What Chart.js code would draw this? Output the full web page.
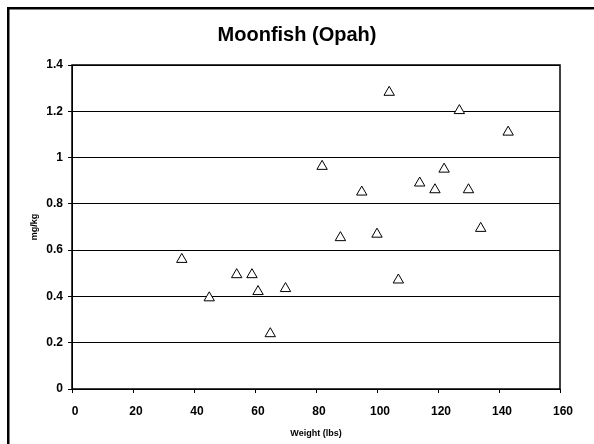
<!DOCTYPE html>
<html>
<head>
<meta charset="utf-8">
<script src="https://cdn.jsdelivr.net/npm/chart.js@4"></script>
<style>
  html, body { margin: 0; padding: 0; background: #fff; }
  #wrap { width: 594px; height: 444px; }
</style>
</head>
<body>
<div id="wrap"><canvas id="chart" width="594" height="444"></canvas></div>
<script>
// weight (lbs) and mercury (mg/kg) per fish
const weights = [36, 45, 54, 59, 61, 65, 70, 82, 88, 95, 100, 104, 107, 114, 119, 122, 127, 130, 134, 143];
const mercury = [0.56, 0.394, 0.494, 0.494, 0.421, 0.239, 0.434, 0.962, 0.654, 0.851, 0.669, 1.282, 0.471, 0.89, 0.861, 0.95, 1.203, 0.861, 0.694, 1.11];
const yTickLabels = ['0', '0.2', '0.4', '0.6', '0.8', '1', '1.2', '1.4'];
const xTickLabels = ['0', '20', '40', '60', '80', '100', '120', '140', '160'];

Chart.defaults.font.family = "'Liberation Sans', Arial, sans-serif";
Chart.defaults.color = '#000';

// outer chart-area frame (only left/top fall inside the picture) + plot border
const frames = {
  id: 'frames',
  beforeDraw(chart) {
    const ctx = chart.ctx;
    ctx.save();
    ctx.fillStyle = '#000';
    ctx.fillRect(7, 7, 594, 2.5);
    ctx.fillRect(7, 7, 2.5, 444);
    ctx.restore();
  },
  beforeDatasetsDraw(chart) {
    const { ctx, chartArea: a } = chart;
    ctx.save();
    ctx.strokeStyle = '#000';
    ctx.lineWidth = 1.5;
    ctx.strokeRect(a.left, a.top, a.right - a.left, a.bottom - a.top);
    ctx.restore();
  }
};

new Chart(document.getElementById('chart'), {
  type: 'scatter',
  data: {
    datasets: [{
      label: 'Moonfish (Opah)',
      data: weights.map((w, i) => ({ x: w, y: mercury[i] })),
      pointStyle: 'triangle',
      pointRadius: 6,
      pointHoverRadius: 6,
      pointBackgroundColor: '#fff',
      pointBorderColor: '#000',
      pointBorderWidth: 1
    }]
  },
  options: {
    responsive: false,
    animation: false,
    devicePixelRatio: 1,
    layout: { padding: 0 },
    plugins: {
      legend: { display: false },
      tooltip: { enabled: false },
      title: {
        display: true,
        text: 'Moonfish (Opah)',
        font: { size: 20, weight: 'bold' },
        padding: { top: 23, bottom: 18 }
      }
    },
    scales: {
      x: {
        type: 'linear',
        min: 0,
        max: 160,
        afterFit(scale) { scale.height = 55; },
        afterBuildTicks(scale) {
          scale.ticks = xTickLabels.map(v => ({ value: Number(v) }));
        },
        ticks: {
          callback: (v, i) => xTickLabels[i],
          font: { size: 12, weight: 'bold' },
          padding: 11,
          labelOffset: 3,
          maxRotation: 0
        },
        grid: { drawOnChartArea: false, drawTicks: true, tickLength: 4, tickColor: '#000' },
        border: { display: true, color: '#000', width: 1 },
        title: {
          display: true,
          text: 'Weight (lbs)',
          font: { size: 9, weight: 'bold' },
          padding: { top: 0, bottom: 5 }
        }
      },
      y: {
        min: 0,
        max: 1.4,
        afterFit(scale) { scale.width = 72; },
        afterBuildTicks(scale) {
          scale.ticks = yTickLabels.map(v => ({ value: Number(v) }));
        },
        ticks: {
          callback: (v, i) => yTickLabels[i],
          font: { size: 12, weight: 'bold' },
          padding: 5
        },
        grid: { color: '#000', lineWidth: 1, drawTicks: true, tickLength: 4, tickColor: '#000' },
        border: { display: true, color: '#000', width: 1 },
        title: {
          display: true,
          text: 'mg/kg',
          font: { size: 9, weight: 'bold' },
          padding: { top: 29, bottom: 0 }
        }
      },
      // empty right-hand strip so the title stays centred on the whole page
      yRight: {
        position: 'right',
        min: 0,
        max: 1.4,
        afterFit(scale) { scale.width = 34; },
        ticks: { display: false },
        grid: { display: false },
        border: { display: false }
      }
    }
  },
  plugins: [frames]
});
</script>
</body>
</html>
